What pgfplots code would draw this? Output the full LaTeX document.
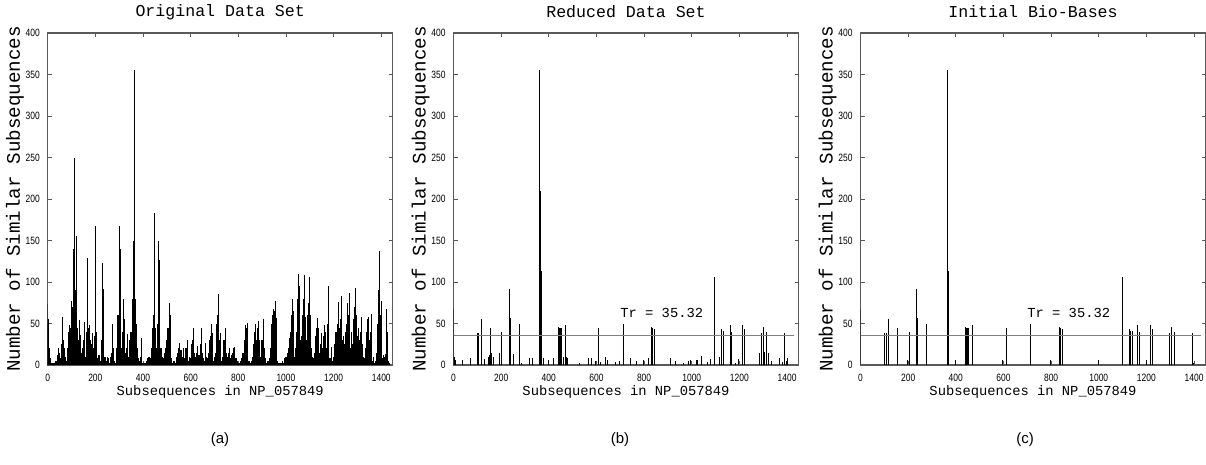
\documentclass[border=0pt]{standalone}
\usepackage{fontspec}
\setmainfont{Liberation Sans}
\newfontfamily\mono{Liberation Mono}
\newfontfamily\ticksf{Liberation Sans}[FakeStretch=0.8]
\usepackage{pgfplots}
\pgfplotsset{compat=1.18}

\definecolor{frame}{gray}{0.35}
\pgfplotsset{
  spikeaxis/.style={
    width=172.5pt, height=166pt, scale only axis,
    anchor=south west,
    xmin=0, xmax=1448, ymin=0, ymax=400,
    xtick={0,200,...,1400}, ytick={0,50,...,400},
    tick align=inside, major tick length=2pt,
    tick style={frame, line width=0.4pt},
    axis line style={frame, line width=0.6pt},
    tick label style={font=\ticksf\fontsize{5.3}{6}\selectfont},
    xticklabel style={yshift=-1.2pt},
    yticklabel style={xshift=-0.4pt},
    /pgf/number format/assume math mode=true,
    /pgf/number format/1000 sep={},
    xlabel={Subsequences in NP\_057849},
    ylabel={Number of Similar Subsequences},
    xlabel style={font=\mono\fontsize{6.9}{7}\selectfont, at={(axis description cs:0.5,-0.081)}, anchor=center},
    ylabel style={font=\mono\fontsize{9.6}{10}\selectfont, at={(axis description cs:-0.095,0.5)}, anchor=center},
    title style={font=\mono\fontsize{8.3}{9}\selectfont, at={(axis description cs:0.5,1.027)}, anchor=center},
  },
  spike/.style={ycomb, mark=none, black, line width=0.5pt},
}

\begin{document}
\begin{tikzpicture}
\useasboundingbox (0,0) rectangle (603pt,-232.5pt);

% (a) original data set
\begin{axis}[spikeaxis, at={(23.85pt,-182.5pt)}, title={Original Data Set}]
% background of small counts, every 5th subsequence
\addplot[spike, line width=0.65pt] coordinates {
(0,50)(5,20)(10,8)(15,3)(20,2)(25,2)(30,3)(35,5)(40,12)(45,20)(50,15)(55,8)(60,25)(65,30)(70,20)(75,10)(80,5)(85,20)(90,40)(95,45)
(100,65)(105,70)(110,110)(115,90)(120,60)(125,45)(130,30)(135,25)(140,15)(145,20)(150,30)(155,25)(160,10)(165,40)(170,45)(175,45)(180,30)(185,25)(190,20)(195,35)
(200,40)(205,15)(210,8)(215,12)(220,5)(225,30)(230,60)(235,40)(240,10)(245,5)(250,10)(255,8)(260,3)(265,10)(270,15)(275,20)(280,5)(285,3)(290,20)(295,60)
(300,100)(305,50)(310,20)(315,40)(320,30)(325,15)(330,20)(335,25)(340,10)(345,8)(350,40)(355,80)(360,150)(365,120)(370,50)(375,20)(380,8)(385,5)(390,10)(395,15)
(400,3)(405,2)(410,3)(415,5)(420,8)(425,10)(430,8)(435,20)(440,45)(445,60)(450,40)(455,20)(460,50)(465,80)(470,60)(475,20)(480,10)(485,8)(490,15)(495,20)
(500,30)(505,45)(510,50)(515,20)(520,8)(525,3)(530,5)(535,3)(540,10)(545,15)(550,20)(555,15)(560,18)(565,10)(570,5)(575,8)(580,20)(585,15)(590,5)(595,10)
(600,8)(605,25)(610,30)(615,15)(620,10)(625,15)(630,20)(635,12)(640,25)(645,30)(650,15)(655,8)(660,5)(665,10)(670,8)(675,15)(680,30)(685,35)(690,20)(695,5)
(700,10)(705,15)(710,50)(715,60)(720,30)(725,8)(730,5)(735,10)(740,30)(745,35)(750,15)(755,10)(760,15)(765,8)(770,12)(775,15)(780,18)(785,10)(790,8)(795,5)
(800,3)(805,2)(810,5)(815,8)(820,15)(825,30)(830,40)(835,45)(840,30)(845,5)(850,3)(855,5)(860,10)(865,25)(870,40)(875,30)(880,45)(885,35)(890,15)(895,10)
(900,30)(905,45)(910,20)(915,8)(920,3)(925,5)(930,8)(935,20)(940,50)(945,60)(950,65)(955,60)(960,15)(965,5)(970,3)(975,2)(980,3)(985,5)(990,3)(995,8)
(1000,10)(1005,15)(1010,20)(1015,25)(1020,40)(1025,60)(1030,30)(1035,10)(1040,20)(1045,40)(1050,80)(1055,70)(1060,30)(1065,35)(1070,60)(1075,80)(1080,40)(1085,30)(1090,60)(1095,75)
(1100,50)(1105,20)(1110,10)(1115,8)(1120,15)(1125,35)(1130,45)(1135,30)(1140,15)(1145,25)(1150,30)(1155,20)(1160,35)(1165,30)(1170,20)(1175,50)(1180,20)(1185,8)(1190,15)(1195,5)
(1200,10)(1205,25)(1210,40)(1215,50)(1220,35)(1225,45)(1230,55)(1235,30)(1240,15)(1245,25)(1250,40)(1255,50)(1260,60)(1265,45)(1270,20)(1275,10)(1280,25)(1285,55)(1290,70)(1295,45)
(1300,35)(1305,40)(1310,30)(1315,40)(1320,25)(1325,10)(1330,8)(1335,20)(1340,40)(1345,45)(1350,30)(1355,40)(1360,25)(1365,5)(1370,3)(1375,5)(1380,15)(1385,50)(1390,90)(1395,60)
(1400,30)(1405,8)(1410,5)(1415,10)(1420,3)(1425,40)(1430,5)(1435,2)
};
% tall individual spikes
\addplot[spike] coordinates {
(0,73)(3,55)(63,58)(91,48)(100,77)(108,140)(111,249)(114,113)(122,155)(132,54)(139,36)(153,52)(169,129)(174,48)(187,38)
(202,168)(206,40)(231,123)(236,92)(274,49)(301,167)(304,140)(318,79)(322,55)(335,37)(343,30)(357,80)(361,120)(363,356)(366,210)(369,80)
(395,33)(444,45)(447,183)(451,45)(466,150)(469,127)(510,75)(514,60)(554,26)(568,20)(587,30)(612,45)(629,23)(645,44)(663,27)(686,50)(693,38)
(717,85)(724,38)(746,44)(763,20)(780,20)(784,22)(832,48)(837,51)(872,49)(883,53)(889,30)(906,56)(945,25)(948,67)(956,77)(959,57)
(1016,32)(1026,80)(1032,65)(1043,22)(1053,110)(1058,95)(1068,35)(1077,108)(1082,58)(1098,106)(1103,60)(1131,57)(1137,45)(1149,39)(1161,48)(1166,40)(1177,95)(1193,22)
(1219,76)(1228,40)(1235,83)(1242,35)(1259,75)(1266,87)(1273,40)(1291,93)(1298,60)(1305,45)(1312,40)(1319,58)(1343,56)(1347,58)(1361,62)(1368,10)
(1393,137)(1399,77)(1410,12)(1417,13)(1424,67)
};
\end{axis}

% (b) reduced data set
\begin{axis}[spikeaxis, at={(226.75pt,-182.5pt)}, title={Reduced Data Set}]
\addplot[spike] coordinates {
(0,68)(5,10)(10,6)(38,6)(70,8)(100,38)(105,38)(119,56)(130,7)(147,10)(150,12)(155,44)(160,14)(166,10)(191,14)(203,40)
(236,92)(239,57)(250,13)(275,49)(286,2)(320,9)(330,9)(363,356)(366,210)(369,113)(378,9)(399,6)(421,8)
(441,46)(445,44)(448,45)(454,45)(461,10)(471,48)(476,10)(480,8)(527,2)(566,9)(580,8)(597,5)(610,45)(617,4)(638,10)(647,6)
(681,4)(695,5)(714,49)(743,9)(767,5)(796,6)(820,8)(831,46)(837,45)(842,43)(911,9)(932,5)(967,3)(988,5)(995,6)(1020,6)(1025,6)
(1041,11)(1065,4)(1079,7)(1095,106)(1116,10)(1124,43)(1134,41)(1161,48)(1165,40)(1183,2)(1197,7)(1214,48)(1221,43)
(1284,15)(1292,39)(1302,46)(1307,16)(1315,40)(1320,14)(1334,5)(1369,8)(1379,4)(1389,38)(1396,5)(1402,9)
};
\addplot[gray, line width=0.6pt] coordinates {(0,35.32) (1430,35.32)};
\node[font=\mono\fontsize{6.9}{7}\selectfont] at (axis cs:874,63) {Tr = 35.32};
\end{axis}

% (c) initial bio-bases
\begin{axis}[spikeaxis, at={(430.25pt,-182.5pt)}, title={Initial Bio-Bases}]
\addplot[spike] coordinates {
(0,68)(102,38)(108,38)(119,56)(157,44)(199,6)(204,40)(237,92)(240,57)(276,49)(364,210)(367,356)(370,113)(398,6)
(442,46)(446,44)(449,45)(455,45)(472,48)(598,6)(613,45)(715,49)(799,6)(834,46)(840,45)(846,43)(1000,6)
(1098,106)(1128,43)(1134,41)(1140,41)(1163,48)(1169,40)(1200,6)(1218,48)(1225,43)(1298,39)(1306,46)(1319,40)(1393,38)(1397,3)
};
\addplot[gray, line width=0.6pt] coordinates {(0,35.32) (1430,35.32)};
\node[font=\mono\fontsize{6.9}{7}\selectfont] at (axis cs:874,63) {Tr = 35.32};
\end{axis}

\node[font=\fontsize{7.5}{8}\selectfont] at (110pt,-220pt) {(a)};
\node[font=\fontsize{7.5}{8}\selectfont] at (310pt,-220pt) {(b)};
\node[font=\fontsize{7.5}{8}\selectfont] at (512.5pt,-220pt) {(c)};
\end{tikzpicture}
\end{document}
